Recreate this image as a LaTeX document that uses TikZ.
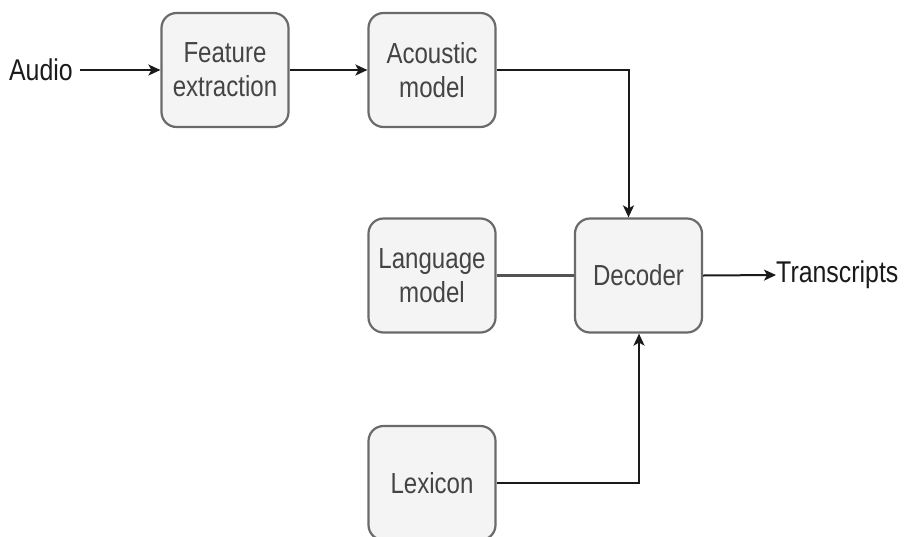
\documentclass[tikz,border=0pt]{standalone}
\usepackage{fontspec}
\setmainfont[FakeStretch=0.83]{Liberation Sans}
\usetikzlibrary{arrows.meta}
\definecolor{boxfill}{HTML}{F4F4F4}
\definecolor{boxline}{HTML}{6A6A6A}
\definecolor{boxtext}{HTML}{444444}
\definecolor{conn}{HTML}{1A1A1A}
\tikzset{
  blk/.style={draw=boxline, line width=2.2pt, fill=boxfill, rounded corners=15pt,
    minimum width=127pt, minimum height=114pt, inner sep=0pt,
    align=center, text=boxtext, font=\fontsize{29}{34}\selectfont},
  lbl/.style={inner sep=0pt, text=conn, font=\fontsize{30}{34}\selectfont},
  arr/.style={draw=conn, line width=2pt, -{Stealth[length=12pt,width=11pt,inset=3pt]}},
  ln/.style={draw=conn!75!white, line width=2.2pt}
}
\begin{document}
\begin{tikzpicture}[x=1pt,y=-1pt]
\useasboundingbox (0,0) rectangle (904,536);
\node[lbl, anchor=east] (audio) at (73,70) {Audio};
\node[blk] (fe) at (225,70) {Feature\\extraction};
\node[blk] (am) at (432,70) {Acoustic\\model};
\node[blk] (lm) at (432,275.5) {Language\\model};
\node[blk] (dec) at (638.5,275.5) {Decoder};
\node[blk] (lex) at (432,483) {Lexicon};
\node[lbl, anchor=west] (tr) at (776,275) {Transcripts};
\coordinate (audend) at (80,70);
\draw[arr] (audend) -- (fe.west);
\draw[arr] (fe.east) -- (am.west);
\draw[arr] (am.east) -| ([xshift=-10pt]dec.north);
\draw[ln] (lm.east) -- (dec.west);
\draw[arr] (dec.east) -- (tr.west);
\draw[arr] (lex.east) -| ([xshift=0.5pt]dec.south);
\end{tikzpicture}
\end{document}
